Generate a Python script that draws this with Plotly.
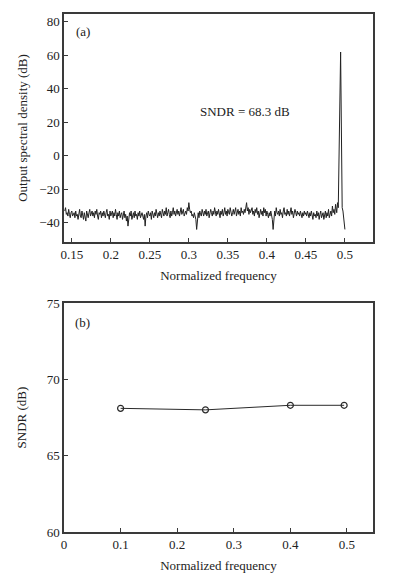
import numpy as np
import plotly.graph_objects as go

# ---------- Data ----------
# (a) noise floor of the output spectrum (dB)
noise_db = [
    -33, -31, -35, -34, -36, -32, -35, -37, -34, -33, -36, -35,
    -34, -37, -33, -36, -35, -38, -34, -32, -36, -37, -33, -35,
    -38, -34, -36, -39, -33, -35, -37, -34, -32, -36, -35, -33,
    -36, -34, -37, -33, -35, -32, -36, -38, -34, -35, -33, -37,
    -34, -36, -33, -35, -37, -34, -32, -36, -35, -38, -33, -36,
    -35, -33, -37, -34, -36, -32, -35, -38, -34, -36, -33, -37,
    -35, -34, -38, -36, -33, -37, -35, -39, -36, -42, -37, -34,
    -36, -33, -38, -35, -34, -37, -33, -36, -35, -38, -34, -36,
    -33, -37, -35, -34, -36, -38, -35, -42, -36, -34, -37, -33,
    -35, -36, -34, -38, -33, -35, -37, -34, -36, -32, -35, -37,
    -34, -36, -33, -35, -37, -32, -34, -36, -33, -35, -31, -36,
    -34, -32, -35, -37, -33, -36, -34, -31, -35, -33, -36, -34,
    -32, -35, -33, -36, -34, -31, -35, -33, -32, -36, -34, -33,
    -35, -31, -33, -28, -32, -34, -33, -36, -35, -37, -34, -36,
    -38, -44, -36, -34, -37, -33, -35, -36, -32, -34, -36, -33,
    -35, -32, -36, -34, -33, -37, -35, -32, -34, -36, -33, -35,
    -31, -34, -36, -33, -35, -32, -34, -37, -33, -35, -32, -36,
    -34, -31, -35, -33, -36, -32, -34, -35, -31, -33, -36, -34,
    -32, -35, -33, -31, -36, -34, -32, -35, -33, -36, -31, -34,
    -33, -35, -32, -34, -30, -28, -33, -31, -35, -32, -34, -33,
    -31, -35, -33, -36, -32, -34, -31, -35, -33, -37, -34, -32,
    -35, -33, -36, -31, -34, -32, -36, -33, -35, -37, -34, -36,
    -33, -35, -38, -44, -35, -33, -36, -31, -34, -35, -33, -36,
    -32, -35, -34, -37, -33, -31, -35, -34, -36, -32, -35, -33,
    -36, -34, -31, -35, -33, -37, -35, -32, -34, -36, -33, -35,
    -34, -36, -33, -35, -37, -34, -36, -33, -35, -34, -36, -33,
    -35, -37, -34, -36, -33, -35, -38, -34, -36, -35, -37, -33,
    -36, -34, -38, -35, -33, -37, -36, -34, -38, -35, -33, -37,
    -34, -36, -32, -37, -35, -33, -36, -30, -34, -32, -35, -29,
]
noise_start, noise_end = 0.141, 0.488
# signal tone region near fs/2
tone_freq = [0.4895, 0.4905, 0.4915, 0.4945, 0.4965, 0.4975, 0.5]
tone_db = [-34, -28, -31, 62, -31, -33, -44]

# (b) SNDR versus input frequency
sndr_freq = [0.1, 0.25, 0.4, 0.495]
sndr_db = [68.1, 68.0, 68.3, 68.3]

x_ticks_a = [0.15, 0.2, 0.25, 0.3, 0.35, 0.4, 0.45, 0.5]
x_ticklabels_a = ["0.15", "0.2", "0.25", "0.3", "0.35", "0.4", "0.45", "0.5"]
y_ticks_a = [-40, -20, 0, 20, 40, 60, 80]
x_ticks_b = [0, 0.1, 0.2, 0.3, 0.4, 0.5]
x_ticklabels_b = ["0", "0.1", "0.2", "0.3", "0.4", "0.5"]
y_ticks_b = [60, 65, 70, 75]

# ---------- Figure ----------
noise_freq = list(np.linspace(noise_start, noise_end, len(noise_db)))
spec_freq = noise_freq + tone_freq
spec_db = noise_db + tone_db

FONT = "Liberation Serif, Times New Roman, serif"
AX = "#3a3a3a"
W, H = 395, 579

fig = go.Figure()
fig.add_trace(go.Scatter(x=spec_freq, y=spec_db, mode="lines",
                         line=dict(color="#222222", width=1),
                         xaxis="x", yaxis="y", showlegend=False))
fig.add_trace(go.Scatter(x=sndr_freq, y=sndr_db, mode="lines+markers",
                         line=dict(color="#2a2a2a", width=1),
                         marker=dict(symbol="circle-open", size=6,
                                     color="#2a2a2a", line=dict(width=1.2)),
                         xaxis="x2", yaxis="y2", showlegend=False))

common = dict(showline=True, linecolor=AX, linewidth=1.5, mirror=True,
              ticks="inside", ticklen=4, tickwidth=1, tickcolor=AX,
              showgrid=False, zeroline=False,
              tickfont=dict(family=FONT, size=13, color="#222"),
              automargin=False)

dom_x = [64 / W, 373 / W]
fig.update_layout(
    width=W, height=H,
    margin=dict(l=0, r=0, t=0, b=0),
    paper_bgcolor="white", plot_bgcolor="white",
    font=dict(family=FONT, size=13, color="#222"),
    xaxis=dict(domain=dom_x, range=[0.14, 0.536], tickvals=x_ticks_a,
               ticktext=x_ticklabels_a, anchor="y",
               title=dict(text="Normalized frequency", standoff=10,
                          font=dict(family=FONT, size=13)), **common),
    yaxis=dict(domain=[(H - 242) / H, (H - 14) / H], range=[-51.5, 84.7],
               tickvals=y_ticks_a, anchor="x",
               title=dict(text="Output spectral density (dB)", standoff=9,
                          font=dict(family=FONT, size=13)), **common),
    xaxis2=dict(domain=dom_x, range=[0, 0.546], tickvals=x_ticks_b,
                ticktext=x_ticklabels_b, anchor="y2",
                title=dict(text="Normalized frequency", standoff=10,
                           font=dict(family=FONT, size=13)), **common),
    yaxis2=dict(domain=[(H - 532) / H, (H - 303) / H], range=[60, 75],
                tickvals=y_ticks_b, anchor="x2",
                title=dict(text="SNDR (dB)", standoff=17,
                           font=dict(family=FONT, size=13)), **common),
    annotations=[
        dict(text="(a)", x=74 / W, y=(H - 31) / H, xref="paper", yref="paper",
             xanchor="left", yanchor="middle", showarrow=False,
             font=dict(family=FONT, size=13)),
        dict(text="SNDR = 68.3 dB", x=198 / W, y=(H - 112) / H, xref="paper",
             yref="paper", xanchor="left", yanchor="middle", showarrow=False,
             font=dict(family=FONT, size=13)),
        dict(text="(b)", x=73 / W, y=(H - 322) / H, xref="paper", yref="paper",
             xanchor="left", yanchor="middle", showarrow=False,
             font=dict(family=FONT, size=13)),
    ],
)

fig.write_html("out.html",
               config={"displayModeBar": False},
               post_script="document.body.style.margin='0';"
                           "document.body.style.overflow='hidden';")
